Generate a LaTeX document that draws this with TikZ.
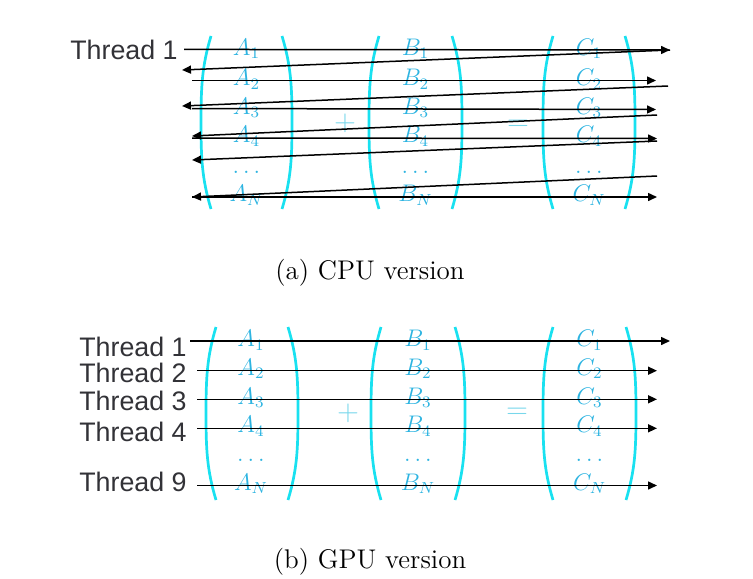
\documentclass[tikz,border=0pt]{standalone}
\usepackage{fontspec}
\usepackage{tikz}
\usetikzlibrary{arrows.meta}
\newfontfamily\fontfil{Liberation Sans}
\definecolor{cyanparen}{RGB}{25,225,240}
\definecolor{cyanterme}{RGB}{45,180,225}
\definecolor{cyanop}{RGB}{120,215,235}
\definecolor{grisfil}{RGB}{50,50,55}

\begin{document}
\begin{tikzpicture}[x=0.5pt,y=-0.5pt,
  fil/.style={font=\fontfil\fontsize{13.4}{14}\selectfont,text=grisfil,anchor=base east,inner sep=0pt},
  terme/.style={font=\fontsize{12}{13}\selectfont,text=cyanterme,anchor=base,inner sep=0pt},
  oper/.style={font=\fontsize{13.5}{14}\selectfont,text=cyanop,inner sep=0pt},
  parenth/.style={draw=cyanparen,line width=1.35pt},
  fleche/.style={-{Triangle[length=4.5pt,width=4pt]},line width=0.75pt},
  legende/.style={font=\fontsize{13.5}{16}\selectfont,inner sep=0pt}]
\useasboundingbox (0,0) rectangle (753,578);
% (a) version CPU
\foreach \m/\x in {A/246.5,B/415.5,C/589} {
  \node[terme] (a\m1) at (\x,55) {$\m_1$};
  \node[terme] (a\m2) at (\x,85.5) {$\m_2$};
  \node[terme] (a\m3) at (\x,114) {$\m_3$};
  \node[terme] (a\m4) at (\x,142.7) {$\m_4$};
  \node[terme] (a\m p) at (\x,173) {$\ldots$};
  \node[terme] (a\m n) at (\x,201.7) {$\m_N$};
}
\foreach \g/\d in {201/292,369/462,543/635} {
  \draw[parenth] (\g+10,36) .. controls (\g+1,66) and (\g,86) .. (\g,122.5) .. controls (\g,159) and (\g+1,179) .. (\g+10,209);
  \draw[parenth] (\d-10,36) .. controls (\d-1,66) and (\d,86) .. (\d,122.5) .. controls (\d,159) and (\d-1,179) .. (\d-10,209);
}
\node[oper] (aplus) at (345,123) {$+$};
\node[oper] (aegal) at (518,125) {$=$};
\node[fil] (fa1) at (178,59) {Thread 1};
\coordinate (d1) at (670,50);
\coordinate (k1) at (182,70);
\coordinate (g2) at (192,80.5);  \coordinate (d2) at (656,80.5);
\coordinate (r2) at (668,86);    \coordinate (k2) at (182,106);
\coordinate (g3) at (192,108.5); \coordinate (d3) at (656,109.5);
\coordinate (r3) at (657,115);   \coordinate (k3) at (192,136);
\coordinate (g4) at (192,138);   \coordinate (d4) at (657,138.5);
\coordinate (r4) at (657,141);   \coordinate (k4) at (192,160);
\coordinate (r5) at (657,176);
\coordinate (gn) at (192,197);   \coordinate (dn) at (657,197);
\draw[fleche] ([xshift=3pt]fa1.east) -- (d1);
\draw[fleche] (d1) -- (k1);
\draw[fleche] (g2) -- (d2);
\draw[fleche] (r2) -- (k2);
\draw[fleche] (g3) -- (d3);
\draw[fleche] (r3) -- (k3);
\draw[fleche] (g4) -- (d4);
\draw[fleche] (r4) -- (k4);
\draw[fleche] (r5) -- (gn);
\draw[fleche] (gn) -- (dn);
\node[legende] (lega) at (370,273) {(a) CPU version};
% (b) version GPU
\foreach \m/\x in {A/251,B/418,C/589.5} {
  \node[terme] (b\m1) at (\x,346.7) {$\m_1$};
  \node[terme] (b\m2) at (\x,375) {$\m_2$};
  \node[terme] (b\m3) at (\x,404) {$\m_3$};
  \node[terme] (b\m4) at (\x,432.7) {$\m_4$};
  \node[terme] (b\m p) at (\x,461.7) {$\ldots$};
  \node[terme] (b\m n) at (\x,490) {$\m_N$};
}
\foreach \g/\d in {206/298,371/465,543/636} {
  \draw[parenth] (\g+10,327) .. controls (\g+1,357) and (\g,377) .. (\g,413.5) .. controls (\g,450) and (\g+1,470) .. (\g+10,500);
  \draw[parenth] (\d-10,327) .. controls (\d-1,357) and (\d,377) .. (\d,413.5) .. controls (\d,450) and (\d-1,470) .. (\d-10,500);
}
\node[oper] (bplus) at (348,413) {$+$};
\node[oper] (begal) at (517,413) {$=$};
\node[fil] (fb1) at (187,356) {Thread 1};
\node[fil] (fb2) at (187,382) {Thread 2};
\node[fil] (fb3) at (187,410) {Thread 3};
\node[fil] (fb4) at (187,441.7) {Thread 4};
\node[fil] (fb9) at (187,491.7) {Thread 9};
\coordinate (gb1) at (190,341);   \coordinate (db1) at (670,341);
\coordinate (gb2) at (197,370.7); \coordinate (db2) at (657,370.7);
\coordinate (gb3) at (197,399.3); \coordinate (db3) at (657,399.3);
\coordinate (gb4) at (197,428.3); \coordinate (db4) at (657,428.3);
\coordinate (gb9) at (197,485.5); \coordinate (db9) at (657,485.5);
\draw[fleche] (gb1) -- (db1);
\draw[fleche] (gb2) -- (db2);
\draw[fleche] (gb3) -- (db3);
\draw[fleche] (gb4) -- (db4);
\draw[fleche] (gb9) -- (db9);
\node[legende] (legb) at (370,562) {(b) GPU version};
\end{tikzpicture}
\end{document}
